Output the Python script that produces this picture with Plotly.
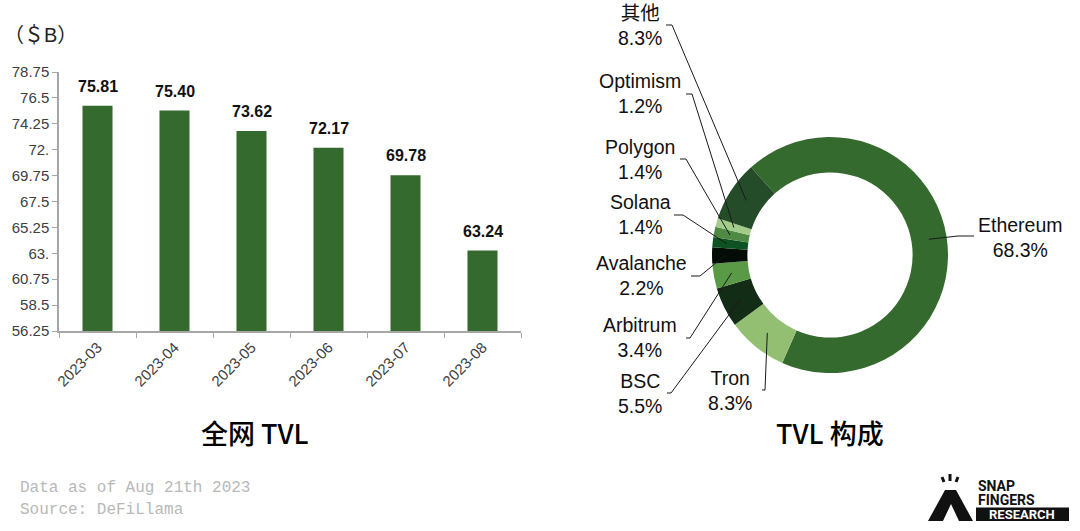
import math
import plotly.graph_objects as go

# ---------------- data ----------------
months = ["2023-03", "2023-04", "2023-05", "2023-06", "2023-07", "2023-08"]
tvl_values = [75.81, 75.40, 73.62, 72.17, 69.78, 63.24]
y_tickvals = [56.25, 58.5, 60.75, 63, 65.25, 67.5, 69.75, 72, 74.25, 76.5, 78.75]
y_ticktext = ["56.25", "58.5", "60.75", "63.", "65.25", "67.5", "69.75", "72.", "74.25", "76.5", "78.75"]

chains = ["Ethereum", "Tron", "BSC", "Arbitrum", "Avalanche", "Solana", "Polygon", "Optimism", "其他"]
shares = [68.3, 8.3, 5.5, 3.4, 2.2, 1.4, 1.4, 1.2, 8.3]
slice_colors = ["#356a2e", "#93bf73", "#122c16", "#5a9a46", "#030c05",
                "#0d5222", "#4f8a45", "#a3cc8a", "#254c29"]

W, H = 1080, 531
def px(x): return x / W
def py(y): return 1 - y / H

fig = go.Figure()

# ---------------- bar chart ----------------
fig.add_trace(go.Bar(
    x=months, y=tvl_values, marker=dict(color="#356a2e", line=dict(width=0)),
    width=0.39, showlegend=False, hoverinfo="skip",
))
for m, v in zip(months, tvl_values):
    fig.add_annotation(x=m, y=v, xref="x", yref="y", showarrow=False, yanchor="bottom",
                       yshift=9, text=f"{v:.2f}",
                       font=dict(family="Liberation Sans, Arial", size=16, color="#111111", weight="bold"))

fig.update_xaxes(type="category", automargin=False, domain=[px(59), px(521)], showline=True,
                 linecolor="#a6a6a6", linewidth=1.5,
                 ticks="outside", tickson="boundaries", ticklen=5, tickcolor="#a6a6a6",
                 tickangle=-45, tickfont=dict(family="Liberation Sans, Arial", size=15, color="#404040"),
                 showgrid=False, zeroline=False, fixedrange=True)
fig.update_yaxes(automargin=False, domain=[py(331), py(72)], range=[56.25, 78.75],
                 tickvals=y_tickvals, ticktext=y_ticktext,
                 showline=True, linecolor="#a6a6a6", linewidth=1.5, ticks="outside", ticklen=5,
                 tickcolor="#a6a6a6", tickfont=dict(family="Liberation Sans, Arial", size=15, color="#404040"),
                 showgrid=False, zeroline=False, fixedrange=True)

# ---------------- donut ----------------
cx, cy, R, hole = 830, 255, 118, 0.70
rotation = -42
fig.add_trace(go.Pie(
    labels=chains, values=shares, marker=dict(colors=slice_colors, line=dict(width=0)),
    hole=hole, sort=False, direction="clockwise", rotation=rotation,
    textinfo="none", showlegend=False, hoverinfo="skip", automargin=False,
    domain=dict(x=[px(cx - R), px(cx + R)], y=[py(cy + R), py(cy - R)]),
))

# label layout positions (text centre) and leader-line elbow points
label_pos = {
    "Ethereum": (1020, 237), "Tron": (730, 390), "BSC": (640, 393), "Arbitrum": (640, 337),
    "Avalanche": (641, 275), "Solana": (640, 214), "Polygon": (640, 159), "Optimism": (640, 93),
    "其他": (640, 26),
}
elbow = {
    "Ethereum": [(974, 236), (958, 236)], "Tron": [(762, 390), (765, 390)],
    "BSC": [(667, 393), (671, 393)], "Arbitrum": [(686, 338), (690, 338)],
    "Avalanche": [(691, 276), (700, 276)], "Solana": [(674, 215), (683, 215)],
    "Polygon": [(680, 159), (686, 159)], "Optimism": [(686, 94), (692, 94)],
    "其他": [(666, 25), (672, 25)],
}
tip_r = {"Ethereum": 100, "Tron": 100, "BSC": 100, "Arbitrum": 100, "Avalanche": 105,
         "Solana": 104, "Polygon": 102, "Optimism": 100, "其他": 100}

total = sum(shares)
start = rotation
for name, v in zip(chains, shares):
    span = v / total * 360
    mid = start + span / 2
    start += span
    r = tip_r[name]
    tx = cx + r * math.sin(math.radians(mid))
    ty = cy - r * math.cos(math.radians(mid))
    (x0, y0), (x1, y1) = elbow[name]
    fig.add_shape(type="path", xref="paper", yref="paper",
                  path=f"M {px(x0)} {py(y0)} L {px(x1)} {py(y1)} L {px(tx)} {py(ty)}",
                  line=dict(color="#1a1a1a", width=1))
    lx, ly = label_pos[name]
    fig.add_annotation(x=px(lx), y=py(ly), xref="paper", yref="paper", showarrow=False,
                       text=f"{name}<br>{v}%", align="center", xanchor="center", yanchor="middle",
                       font=dict(family="Liberation Sans, Noto Sans CJK SC", size=19.5, color="#111111"))

# ---------------- titles / texts ----------------
def note(x, y, text, font, xanchor="center"):
    fig.add_annotation(x=px(x), y=py(y), xref="paper", yref="paper", showarrow=False,
                       xanchor=xanchor, yanchor="middle", text=text, font=font)

note(255, 432, "全网 TVL", dict(family="Noto Sans CJK SC", size=27, color="#000000", weight=500))
note(830, 432, "TVL 构成", dict(family="Noto Sans CJK SC", size=27, color="#000000", weight=500))
note(2, 35, "（＄B）", dict(family="Liberation Sans, Noto Sans CJK SC", size=20, color="#222222"), "left")
note(18, 488, "Data as of Aug 21th 2023", dict(family="Liberation Mono, monospace", size=16, color="#b8b8b8"), "left")
note(18, 510, "Source: DeFiLlama", dict(family="Liberation Mono, monospace", size=16, color="#b8b8b8"), "left")

# ---------------- logo ----------------
def P(pts):
    return "M " + " L ".join(f"{px(x)} {py(y)}" for x, y in pts) + " Z"
fig.add_shape(type="path", xref="paper", yref="paper",
              path=P([(928, 521), (945, 490), (956, 490), (973, 521), (959, 521), (951, 504), (943, 521)]),
              fillcolor="#111111", line=dict(width=0))
for (a, b), (c, d) in [((942, 477), (944, 482)), ((950, 474), (950, 481)), ((958, 477), (956, 482))]:
    fig.add_shape(type="line", xref="paper", yref="paper", x0=px(a), y0=py(b), x1=px(c), y1=py(d),
                  line=dict(color="#111111", width=3))
fig.add_shape(type="rect", xref="paper", yref="paper", x0=px(976), y0=py(521), x1=px(1069), y1=py(507.5),
              fillcolor="#111111", line=dict(width=0), layer="below")
note(976, 485.5, "SNAP", dict(family="Roboto", size=14, color="#111111", weight="bold"), "left")
note(976, 499.5, "FINGERS", dict(family="Roboto", size=14, color="#111111", weight="bold"), "left")
note(1022, 514.5, "RESEARCH", dict(family="Roboto", size=13, color="#ffffff", weight="bold"))

fig.update_layout(width=W, height=H, margin=dict(l=0, r=0, t=0, b=0, pad=0), autosize=False,
                  paper_bgcolor="white", plot_bgcolor="white")
fig.write_html("out.html", config={"displayModeBar": False},
               post_script="document.body.style.margin='0';document.body.style.overflow='hidden';")
